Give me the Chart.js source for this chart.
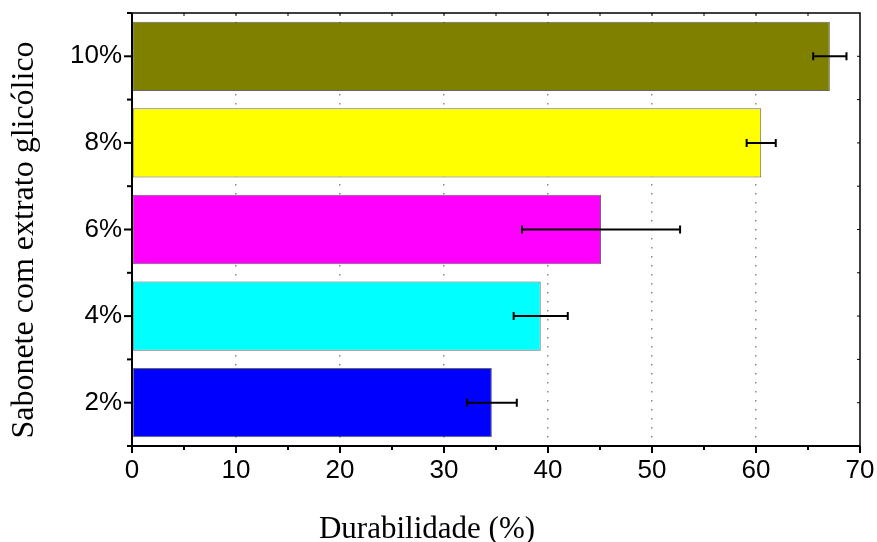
<!DOCTYPE html>
<html>
<head>
<meta charset="utf-8">
<script src="https://cdn.jsdelivr.net/npm/chart.js@4.4.1/dist/chart.umd.min.js"></script>
<style>
  html, body { margin: 0; padding: 0; background: #fff; }
  #wrap { width: 877px; height: 542px; }
</style>
</head>
<body>
<div id="wrap"><canvas id="soap-chart" width="877" height="542"></canvas></div>
<script>
// data (top to bottom)
const categories = ["10%", "8%", "6%", "4%", "2%"]
const durability = [67.1, 60.5, 45.1, 39.3, 34.6]
const errors = [1.6, 1.4, 7.6, 2.6, 2.4]
const barColors = ["#808000", "#FFFF00", "#FF00FF", "#00FFFF", "#0000FF"]
const xTicks = [0, 10, 20, 30, 40, 50, 60, 70]

const xTitle = "Durabilidade (%)"
const yTitle = "Sabonete com extrato glicólico"

const canvas = document.getElementById("soap-chart")

// error bars, frame, minor ticks and axis titles
const extras = {
  id: "extras",
  afterDatasetsDraw(chart) {
    const ctx = chart.ctx
    const xs = chart.scales.x
    const ys = chart.scales.y
    ctx.save()
    ctx.strokeStyle = "#000"
    ctx.lineWidth = 2
    durability.forEach((v, i) => {
      const y = ys.getPixelForValue(i)
      const x1 = xs.getPixelForValue(v - errors[i])
      const x2 = xs.getPixelForValue(v + errors[i])
      ctx.beginPath()
      ctx.moveTo(x1, y)
      ctx.lineTo(x2, y)
      ctx.moveTo(x1, y - 4)
      ctx.lineTo(x1, y + 4)
      ctx.moveTo(x2, y - 4)
      ctx.lineTo(x2, y + 4)
      ctx.stroke()
    })
    ctx.restore()
  },
  afterDraw(chart) {
    const ctx = chart.ctx
    const a = chart.chartArea
    const xs = chart.scales.x
    const ys = chart.scales.y
    ctx.save()
    ctx.strokeStyle = "#000"

    // frame
    ctx.lineWidth = 1.5
    ctx.beginPath()
    ctx.moveTo(a.left, a.top)
    ctx.lineTo(a.right, a.top)
    ctx.lineTo(a.right, a.bottom)
    ctx.stroke()
    ctx.lineWidth = 2
    ctx.beginPath()
    ctx.moveTo(a.left, a.top)
    ctx.lineTo(a.left, a.bottom)
    ctx.lineTo(a.right, a.bottom)
    ctx.stroke()

    // x ticks (major every 10, minor every 5)
    for (let v = 0; v <= 70; v += 5) {
      const x = xs.getPixelForValue(v)
      const major = v % 10 === 0
      ctx.lineWidth = 2
      ctx.beginPath()
      ctx.moveTo(x, a.bottom)
      ctx.lineTo(x, a.bottom + (major ? 7 : 4))
      ctx.stroke()
      if (v > 0 && v < 70) {
        ctx.lineWidth = 1
        ctx.beginPath()
        ctx.moveTo(x, a.top)
        ctx.lineTo(x, a.top + 3)
        ctx.stroke()
      }
    }

    // y ticks at category centres and boundaries
    const n = categories.length
    const step = (ys.getPixelForValue(n - 1) - ys.getPixelForValue(0)) / (n - 1)
    for (let i = 0; i < n; i++) {
      const y = ys.getPixelForValue(i)
      ctx.lineWidth = 2
      ctx.beginPath()
      ctx.moveTo(a.left - 8, y)
      ctx.lineTo(a.left, y)
      ctx.stroke()
      ctx.lineWidth = 1
      ctx.beginPath()
      ctx.moveTo(a.right - 3, y)
      ctx.lineTo(a.right, y)
      ctx.stroke()
    }
    for (let i = 0; i <= n; i++) {
      const y = ys.getPixelForValue(0) + (i - 0.5) * step
      ctx.lineWidth = 2
      ctx.beginPath()
      ctx.moveTo(a.left - 5, y)
      ctx.lineTo(a.left, y)
      ctx.stroke()
      if (i > 0 && i < n) {
        ctx.lineWidth = 1
        ctx.beginPath()
        ctx.moveTo(a.right - 3, y)
        ctx.lineTo(a.right, y)
        ctx.stroke()
      }
    }

    // axis titles
    ctx.fillStyle = "#000"
    ctx.font = "31px 'Liberation Serif', 'Times New Roman', serif"
    ctx.textAlign = "center"
    ctx.textBaseline = "alphabetic"
    ctx.fillText(xTitle, 427, 538)
    ctx.translate(33, 240)
    ctx.rotate(-Math.PI / 2)
    ctx.font = "32px 'Liberation Serif', 'Times New Roman', serif"
    ctx.fillText(yTitle, 0, 0)
    ctx.restore()
  },
}

const soapData = {
  labels: categories,
  datasets: [
    {
      data: durability,
      backgroundColor: barColors,
      borderColor: "rgba(0, 0, 0, 0.6)",
      borderWidth: 1,
      borderSkipped: false,
      barPercentage: 0.8,
      categoryPercentage: 1.0,
    },
  ],
}

const tickFont = { family: "'Liberation Sans', Arial, sans-serif", size: 26 }

const soapOptions = {
  indexAxis: "y",
  responsive: false,
  animation: false,
  layout: {
    padding: { top: 13, right: 17, left: 0, bottom: 0 },
  },
  scales: {
    x: {
      min: 0,
      max: 70,
      afterFit: (scale) => {
        scale.height = 96
        scale.paddingLeft = 0
        scale.paddingRight = 0
      },
      afterBuildTicks: (scale) => {
        scale.ticks = xTicks.map((v) => ({ value: v }))
      },
      border: { display: false, dash: [1.5, 7.5] },
      grid: {
        drawTicks: false,
        lineWidth: 1.5,
        color: (c) =>
          c.tick && c.tick.value > 0 && c.tick.value < 70 ? "#8a8a8a" : "rgba(0,0,0,0)",
      },
      ticks: {
        padding: 9,
        color: "#000",
        maxRotation: 0,
        font: tickFont,
      },
    },
    y: {
      afterFit: (scale) => {
        scale.width = 132
        scale.paddingTop = 0
        scale.paddingBottom = 0
      },
      border: { display: false },
      grid: { display: false, drawTicks: false },
      ticks: {
        padding: 10,
        color: "#000",
        font: tickFont,
      },
    },
  },
  plugins: {
    legend: { display: false },
    tooltip: { enabled: false },
  },
}

let soapChart = new Chart(canvas, {
  type: "bar",
  data: soapData,
  options: soapOptions,
  plugins: [extras],
})
</script>
</body>
</html>
